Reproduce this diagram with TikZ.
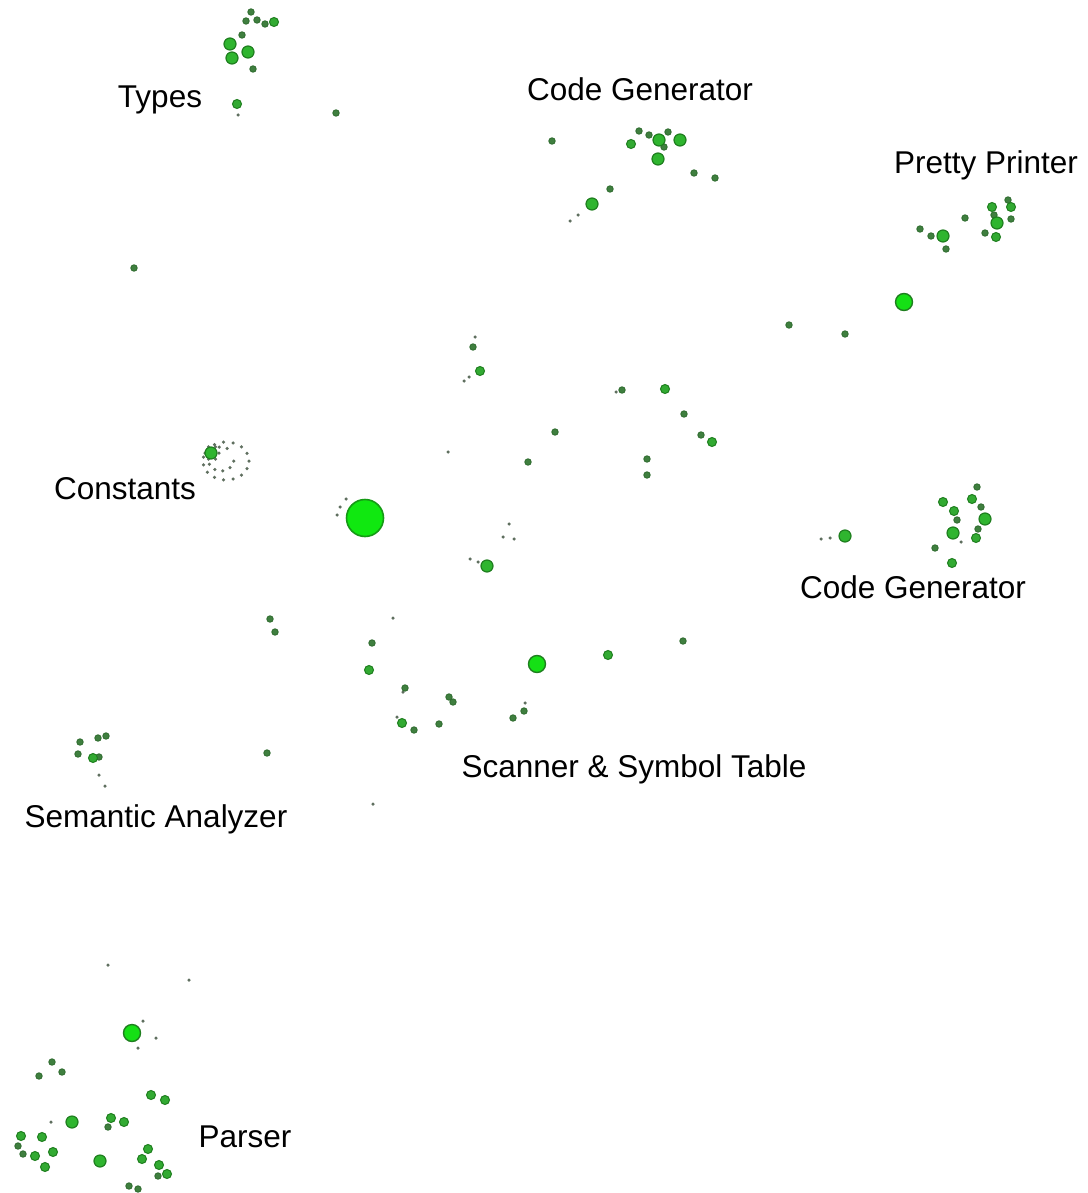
\documentclass[tikz,border=0pt]{standalone}
\usepackage{fontspec}
\setmainfont{Liberation Sans}
\definecolor{dkg}{HTML}{3F7F3F}
\definecolor{dkgb}{HTML}{2E6B2E}
\definecolor{mdg}{HTML}{2FB52F}
\definecolor{mdgb}{HTML}{1F7F1F}
\definecolor{bgg}{HTML}{10E810}
\definecolor{bggb}{HTML}{159A15}
\definecolor{tgray}{HTML}{5F6F5F}
\begin{document}
\begin{tikzpicture}[x=1pt,y=-1pt,
  dotbase/.style={circle,inner sep=0pt,outer sep=0pt},
  tinydot/.style={dotbase,fill=tgray,minimum size=3.5pt},
  smalldot/.style={dotbase,fill=dkg,draw=dkgb,line width=0.8pt,minimum size=6.5pt},
  msdot/.style={dotbase,fill=mdg!80!dkg,draw=mdgb,line width=1pt,minimum size=9pt},
  meddot/.style={dotbase,fill=mdg,draw=mdgb,line width=1.2pt,minimum size=12pt},
  lgdot/.style={dotbase,fill=bgg!85!mdg,draw=mdgb,line width=1.4pt,minimum size=17pt},
  bigdot/.style={dotbase,fill=bgg,draw=bggb,line width=1.6pt,minimum size=37pt},
  lbl/.style={font=\fontsize{31.5}{34}\selectfont,text=black,inner sep=0pt}]
\useasboundingbox (0,0) rectangle (1087,1193);
\fill[white] (0,0) rectangle (1087,1193);

% labels
\node[lbl] (lTypes) at (160,100) {Types};
\node[lbl] (lCG1) at (640,89) {Code Generator};
\node[lbl] (lPP) at (986,165) {Pretty Printer};
\node[lbl] (lConst) at (125,489) {Constants};
\node[lbl] (lCG2) at (913,587) {Code Generator};
\node[lbl] (lScan) at (634,769) {Scanner \& Symbol Table};
\node[lbl] (lSem) at (156,819) {Semantic Analyzer};
\node[lbl] (lPars) at (245,1137) {Parser};

% tiny dots
\foreach \x/\y [count=\i] in {238/115,578/215,570/221,475/337,469/377,464/381,616/392,448/452,
  346/499,340/507,337/515,509/524,503/537,514/539,470/559,478/562,
  821/539,830/538,961/542,393/618,403/692,397/717,525/703,
  99/775,105/786,373/804,108/965,189/980,143/1021,156/1038,138/1048,51/1122}
  \node[tinydot] (t\i) at (\x,\y) {};

% constants halo
\foreach \a [count=\i] in {0,24,...,336}
  \node[tinydot] (ha\i) at ({226+23*cos(\a)},{461+19*sin(\a)}) {};
\foreach \a [count=\i] in {10,46,...,330}
  \node[tinydot] (hb\i) at ({221+13*cos(\a)},{459+12*sin(\a)}) {};
\foreach \a [count=\i] in {0,60,...,300}
  \node[tinydot] (hc\i) at ({212+7*cos(\a)},{453+7*sin(\a)}) {};

% small dots
\foreach \x/\y [count=\i] in {251/12,246/21,257/20,265/24,242/35,253/69,336/113,134/268,
  552/141,639/131,649/135,668/132,664/147,694/173,715/178,610/189,
  1008/200,994/215,1011/219,985/233,965/218,920/229,931/236,946/249,789/325,845/334,
  473/347,622/390,684/414,701/435,555/432,528/462,647/459,647/475,
  977/487,981/507,957/520,978/529,935/548,
  270/619,275/632,372/643,405/688,449/697,453/702,414/730,439/724,683/641,524/711,513/718,
  80/742,98/738,106/736,78/754,99/757,267/753,
  52/1062,62/1072,39/1076,108/1127,18/1146,23/1154,158/1176,129/1186,138/1189}
  \node[smalldot] (s\i) at (\x,\y) {};

% medium-small dots
\foreach \x/\y [count=\i] in {274/22,237/104,631/144,
  992/207,1011/207,996/237,480/371,712/442,665/389,
  972/499,943/502,954/511,976/538,952/563,
  369/670,402/723,608/655,93/758,
  151/1095,165/1100,111/1118,124/1122,21/1136,42/1137,35/1156,53/1152,45/1167,
  148/1149,142/1159,159/1165,167/1174}
  \node[msdot] (m\i) at (\x,\y) {};

% medium dots
\foreach \x/\y [count=\i] in {230/44,232/58,248/52,659/140,680/140,658/159,592/204,
  997/223,943/236,211/453,487/566,845/536,985/519,953/533,72/1122,100/1161}
  \node[meddot] (d\i) at (\x,\y) {};

% larger dots
\node[lgdot] (g1) at (904,302) {};
\node[lgdot] (g2) at (537,664) {};
\node[lgdot] (g3) at (132,1033) {};
\node[bigdot] (big) at (365,518) {};
\end{tikzpicture}
\end{document}
